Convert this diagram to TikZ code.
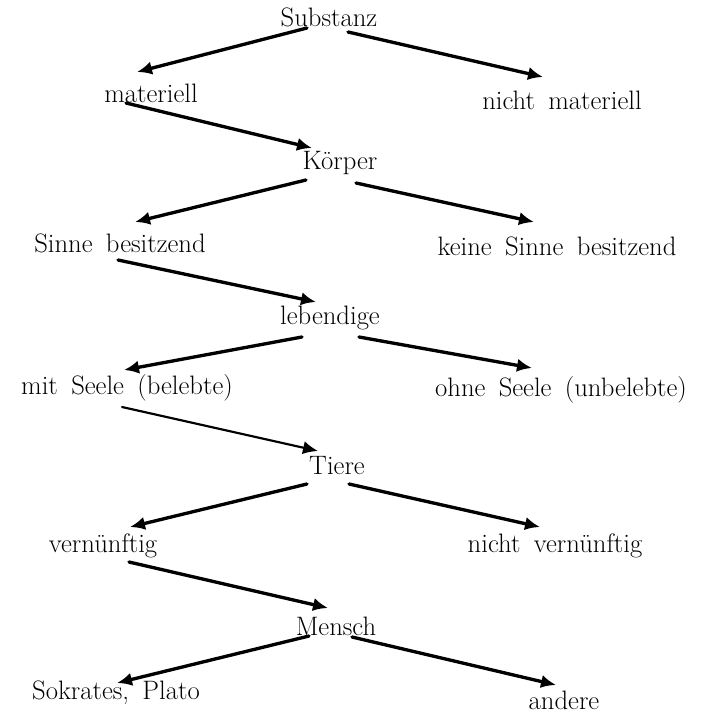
\documentclass[tikz,border=0pt]{standalone}
\usetikzlibrary{arrows.meta,calc}
\newcommand\termfont{\fontsize{16}{18}\selectfont\spaceskip=0.5em plus 0.1em\relax}
\tikzset{
  term/.style={font=\termfont, inner sep=1pt},
  arr/.style={-{Latex[length=9pt,width=8pt]}, line width=2pt, line cap=round},
  arrthin/.style={arr, line width=1.3pt},
}
\begin{document}
\begin{tikzpicture}[x=0.6pt, y=-0.6pt]
  \useasboundingbox (0,0) rectangle (702,714);
  % the tree, level by level
  \node[term] (sub)  at (329,17)  {Substanz};
  \node[term] (mat)  at (151,93)  {materiell};
  \node[term] (nmat) at (562,100) {nicht materiell};
  \node[term] (kor)  at (340,163) {Körper};
  \node[term] (sin)  at (120,243) {Sinne besitzend};
  \node[term] (ksin) at (557,246) {keine Sinne besitzend};
  \node[term] (leb)  at (330,318) {lebendige};
  \node[term] (mit)  at (127,388) {mit Seele (belebte)};
  \node[term] (ohne) at (561,390) {ohne Seele (unbelebte)};
  \node[term] (tie)  at (337,466) {Tiere};
  \node[term] (ver)  at (103,546) {vernünftig};
  \node[term] (nver) at (555,546) {nicht vernünftig};
  \node[term] (men)  at (336,626) {Mensch};
  \node[term] (sok)  at (116,693) {Sokrates, Plato};
  \node[term] (and)  at (564,700) {andere};
  % branches: parent/offset/child/offset
  \foreach \a/\ta/\b/\hb in {sub/{-22,11}/mat/{-14,-21}, sub/{19,15}/nmat/{-19,-23},
      mat/{-25,10}/kor/{-28,-15}, kor/{-34,17}/sin/{15,-21}, kor/{16,20}/ksin/{-23,-24},
      sin/{-2,17}/leb/{-14,-16}, leb/{-28,19}/mit/{-3,-18}, leb/{29,19}/ohne/{-29,-22},
      tie/{-30,18}/ver/{27,-19}, tie/{12,18}/nver/{-15,-19}, ver/{26,16}/men/{-8,-18},
      men/{-27,10}/sok/{1,-10}, men/{16,11}/and/{-8,-15}}
    \draw[arr] ($(\a)+(\ta)$) -- ($(\b)+(\hb)$);
  \draw[arrthin] ($(mit)+(-5,19)$) -- ($(tie)+(-19,-15)$);
\end{tikzpicture}
\end{document}
